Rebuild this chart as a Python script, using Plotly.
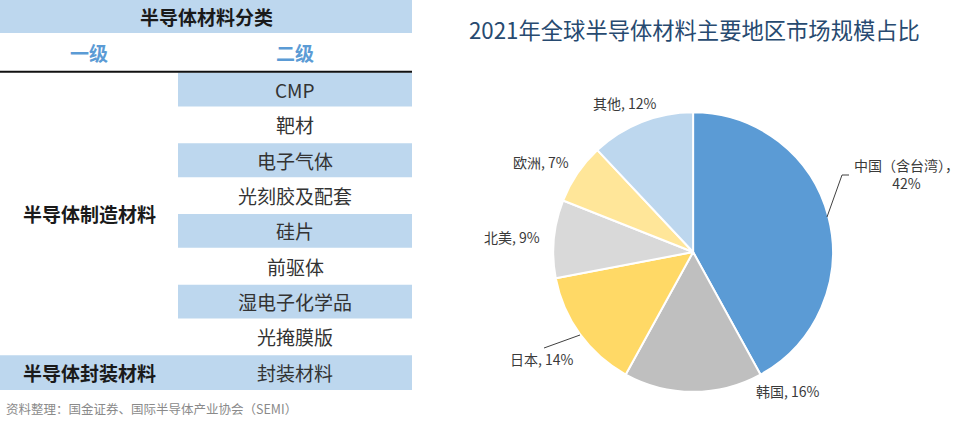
import plotly.graph_objects as go

W, H = 968, 425

# ---------------- data ----------------
table_title = "半导体材料分类"
header_cols = ["一级", "二级"]
level1_groups = ["半导体制造材料", "半导体封装材料"]
level2_items = ["CMP", "靶材", "电子气体", "光刻胶及配套", "硅片", "前驱体",
                "湿电子化学品", "光掩膜版", "封装材料"]
item_group = [0, 0, 0, 0, 0, 0, 0, 0, 1]
source_text = "资料整理：国金证券、国际半导体产业协会（SEMI）"

pie_title = "2021年全球半导体材料主要地区市场规模占比"
regions = ["中国（含台湾）", "韩国", "日本", "北美", "欧洲", "其他"]
shares = [42, 16, 14, 9, 7, 12]

# ---------------- styles ----------------
FONT = "Noto Sans CJK SC"
FILL = "#BDD7EE"
pie_colors = ["#5B9BD5", "#BFBFBF", "#FFD966", "#D9D9D9", "#FFE699", "#BDD7EE"]
# label anchor positions in pixels (x, y) for each region
label_px = [(906, 174), (788, 391), (542, 359), (512, 237), (541, 162), (625, 103)]


def px(x, y):
    return x / W, 1 - y / H


fig = go.Figure()

# ---------------- pie ----------------
fig.add_trace(go.Pie(
    labels=regions, values=shares, sort=False, direction="clockwise", rotation=0,
    marker=dict(colors=pie_colors, line=dict(color="white", width=2)),
    textinfo="none", hoverinfo="label+percent",
    domain=dict(x=[0.571, 0.861], y=[0.078, 0.736]),
))

annotations = []
shapes = []

for i, (lab, v) in enumerate(zip(regions, shares)):
    x, y = px(*label_px[i])
    if i == 0:
        txt = f"{lab}，<br>{v}%"
    else:
        txt = f"{lab}, {v}%"
    annotations.append(dict(x=x, y=y, xref="paper", yref="paper", text=txt,
                            showarrow=False, font=dict(family=FONT, size=14, color="#3a3a3a"),
                            xanchor="center", yanchor="middle", align="center"))

# leader lines
def path(points):
    s = ""
    for k, (a, b) in enumerate(points):
        xx, yy = px(a, b)
        s += ("M" if k == 0 else "L") + f"{xx},{yy} "
    return s

shapes.append(dict(type="path", xref="paper", yref="paper",
                   path=path([(849, 175), (842, 175), (827, 217)]),
                   line=dict(color="#404040", width=1)))
shapes.append(dict(type="path", xref="paper", yref="paper",
                   path=path([(544, 348), (580, 335)]),
                   line=dict(color="#404040", width=1)))

tx, ty = px(467, 29)
annotations.append(dict(x=tx, y=ty, xref="paper", yref="paper", text=pie_title,
                        showarrow=False, xanchor="left", yanchor="middle",
                        font=dict(family=FONT, size=22.3, color="#274A70")))

# ---------------- table ----------------
SPLIT = 178 / 412
TOP, HDR = -2.03, -1.1
n = len(level2_items)

# title row
shapes.append(dict(type="rect", xref="x", yref="y", x0=0, x1=1, y0=TOP, y1=HDR,
                   fillcolor=FILL, line=dict(width=0), layer="below"))
annotations.append(dict(x=0.5, y=(TOP + HDR) / 2, xref="x", yref="y", text=f"<b>{table_title}</b>",
                        showarrow=False, font=dict(family=FONT, size=19, color="#1a1a1a")))
# header
for j, h in enumerate(header_cols):
    cx = SPLIT / 2 if j == 0 else (SPLIT + 1) / 2
    annotations.append(dict(x=cx, y=(HDR + 0) / 2, xref="x", yref="y", text=f"<b>{h}</b>",
                            showarrow=False, font=dict(family=FONT, size=19, color="#5B9BD5")))
shapes.append(dict(type="line", xref="x", yref="y", x0=0, x1=1, y0=0, y1=0,
                   line=dict(color="#111111", width=2)))

# item rows
for i, item in enumerate(level2_items):
    g = item_group[i]
    if g == 1:
        shapes.append(dict(type="rect", xref="x", yref="y", x0=0, x1=1, y0=i + 0.02, y1=i + 1,
                           fillcolor=FILL, line=dict(width=0), layer="below"))
    elif i % 2 == 0:
        shapes.append(dict(type="rect", xref="x", yref="y", x0=SPLIT, x1=1, y0=i + 0.02, y1=i + 0.98,
                           fillcolor=FILL, line=dict(width=0), layer="below"))
    annotations.append(dict(x=(SPLIT + 1) / 2, y=i + 0.5, xref="x", yref="y", text=item,
                            showarrow=False, font=dict(family=FONT, size=19, color="#333333")))

# group labels
for g, name in enumerate(level1_groups):
    rows = [i for i in range(n) if item_group[i] == g]
    cy = (min(rows) + max(rows) + 1) / 2
    annotations.append(dict(x=SPLIT / 2, y=cy, xref="x", yref="y", text=f"<b>{name}</b>",
                            showarrow=False, font=dict(family=FONT, size=19, color="#1a1a1a")))

sx, sy = px(4, 408)
annotations.append(dict(x=sx, y=sy, xref="paper", yref="paper", text=source_text,
                        showarrow=False, xanchor="left", yanchor="middle",
                        font=dict(family=FONT, size=12.5, color="#8a8a8a")))

fig.update_layout(
    width=W, height=H, margin=dict(l=0, r=0, t=0, b=0),
    paper_bgcolor="white", plot_bgcolor="white", showlegend=False,
    xaxis=dict(domain=[0, 412 / W], range=[0, 1], visible=False, fixedrange=True),
    yaxis=dict(domain=[1 - 390 / H, 1], range=[n, TOP], visible=False, fixedrange=True),
    shapes=shapes, annotations=annotations,
)

fig.write_html("out.html")
